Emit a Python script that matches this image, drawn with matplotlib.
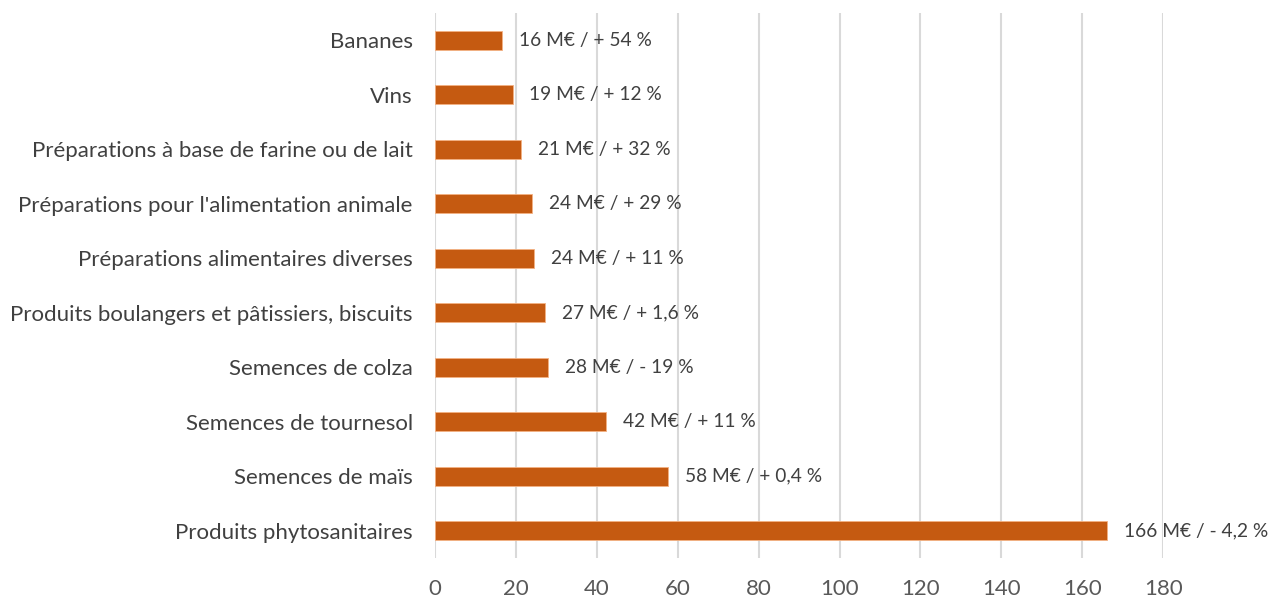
import matplotlib.pyplot as plt

# ----------------------------------------------------------------------------

categories = [
    "Produits phytosanitaires",
    "Semences de maïs",
    "Semences de tournesol",
    "Semences de colza",
    "Produits boulangers et pâtissiers, biscuits",
    "Préparations alimentaires diverses",
    "Préparations pour l'alimentation animale",
    "Préparations à base de farine ou de lait",
    "Vins",
    "Bananes",
]
values = [166.1, 57.6, 42.3, 28.0, 27.2, 24.5, 24.0, 21.3, 19.2, 16.6]
labels = [
    "166 M€ / - 4,2 %",
    "58 M€ / + 0,4 %",
    "42 M€ / + 11 %",
    "28 M€ / - 19 %",
    "27 M€ / + 1,6 %",
    "24 M€ / + 11 %",
    "24 M€ / + 29 %",
    "21 M€ / + 32 %",
    "19 M€ / + 12 %",
    "16 M€ / + 54 %",
]
xticks = [0, 20, 40, 60, 80, 100, 120, 140, 160, 180]

# ----------------------------------------------------------------------------

BAR = "#C55A11"
TXT = "#404040"
FS = 16
plt.rcParams["font.family"] = ["Lato", "DejaVu Sans"]

fig = plt.figure(figsize=(12.81, 5.98), dpi=100)
ax = fig.add_axes([0.3396, 0.067, 0.908 - 0.3396, 0.911])

pos = range(len(categories))
ax.barh(pos, values, height=0.35, color=BAR, edgecolor="#F4B183", linewidth=0.6, zorder=3)
for y, v, lab in zip(pos, values, labels):
    ax.annotate(lab, (v, y), xytext=(12, 0), textcoords="offset points",
                va="center", ha="left", fontsize=13.8, color=TXT)

ax.set_xlim(0, 180)
ax.set_ylim(-0.5, len(categories) - 0.5)
ax.set_yticks(list(pos), categories, fontsize=FS, color=TXT)
ax.set_xticks(xticks, [str(t) for t in xticks], fontsize=FS, color="#595959")
ax.tick_params(length=0)
ax.tick_params(axis="x", pad=15)
ax.tick_params(axis="y", pad=16)
ax.grid(axis="x", color="#D9D9D9", linewidth=1.5, zorder=0)
for s in ax.spines.values():
    s.set_visible(False)

fig.savefig("out.png", dpi=100)
